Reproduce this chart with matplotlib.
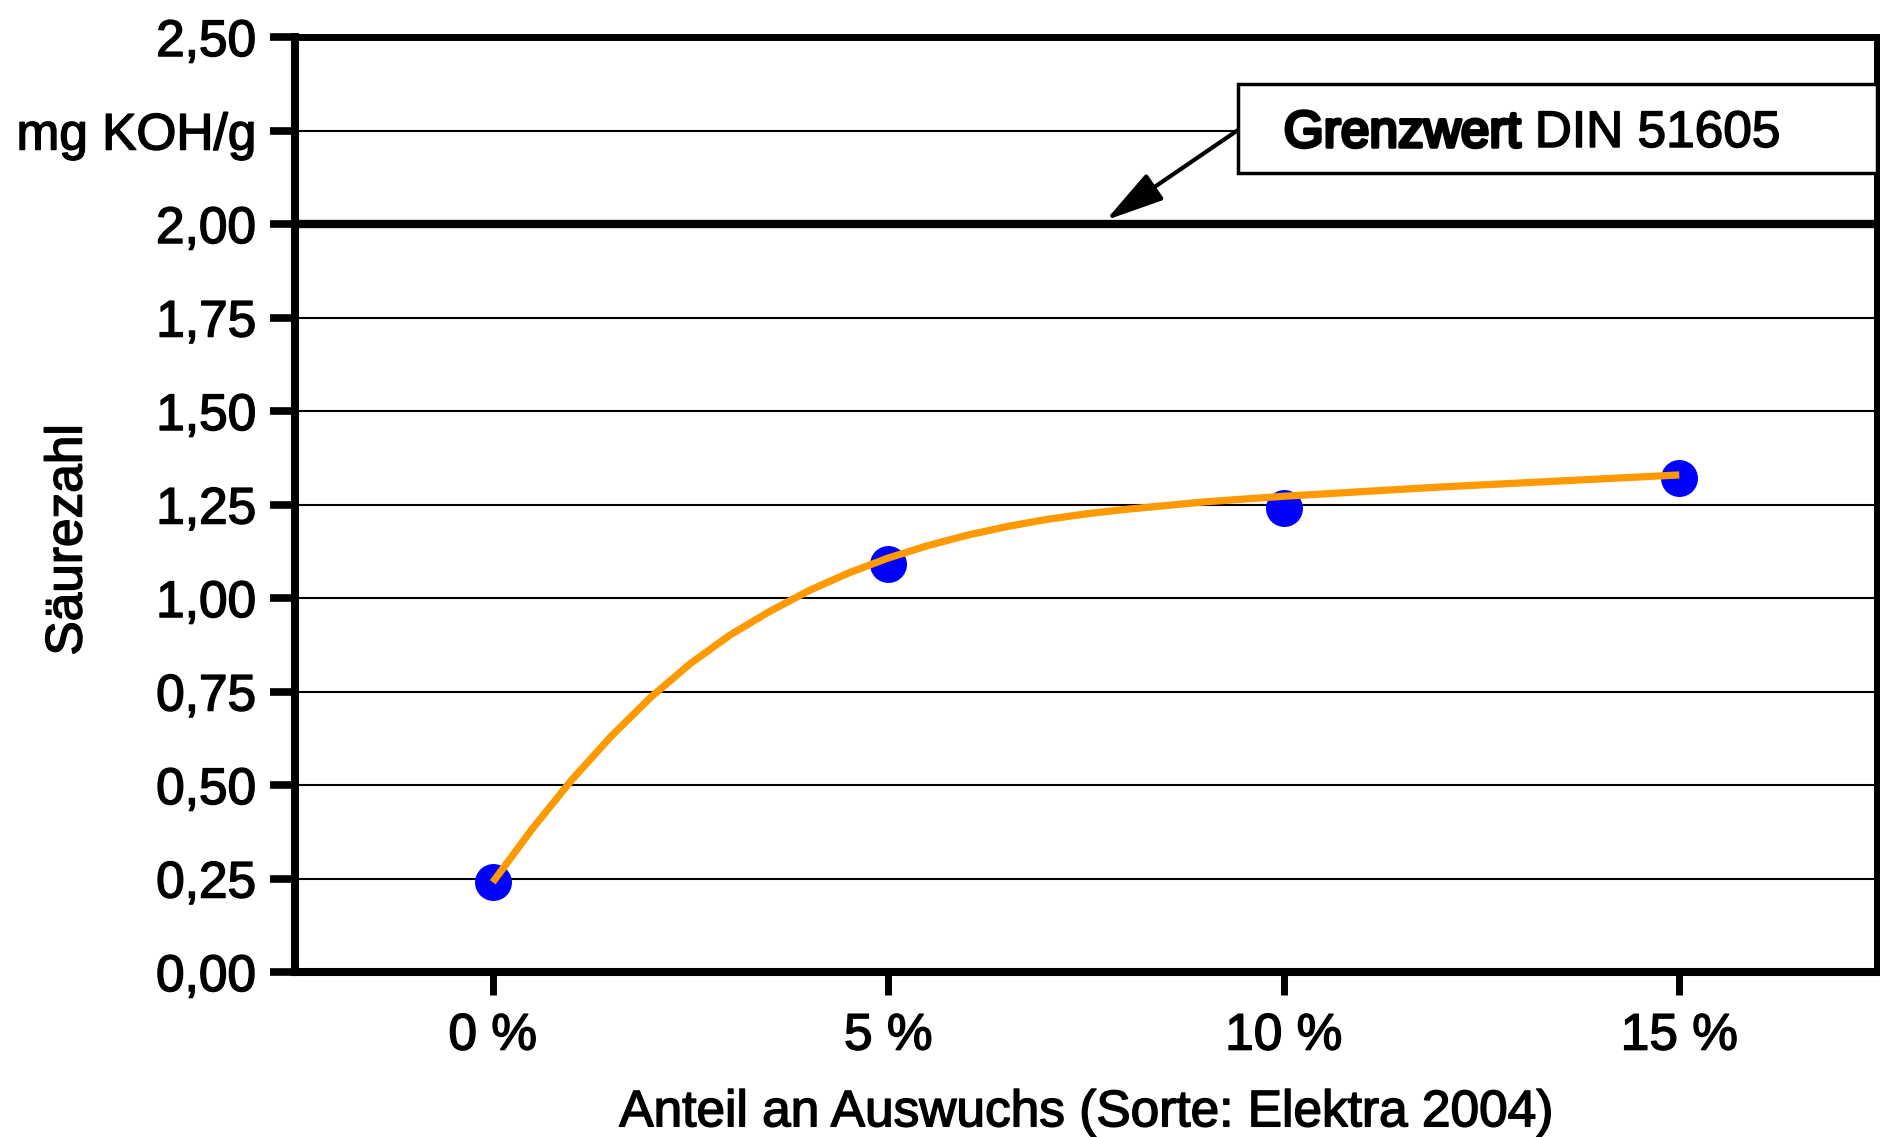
import matplotlib
matplotlib.use("Agg")
import matplotlib.pyplot as plt
import matplotlib.patheffects as pe

plt.rcParams['font.family'] = ['Liberation Sans', 'DejaVu Sans']

# Measured acid number per sprouting share
sprout_share = [0, 5, 10, 15]
acid_number = [0.24, 1.09, 1.24, 1.32]

# Trend curve through the measurements
trend_x = [0, 0.5, 1, 1.5, 2, 2.5, 3, 3.5, 4, 4.5, 5, 5.5, 6, 6.5, 7, 7.5,
           8, 9, 10, 12, 15]
trend_y = [0.24, 0.383, 0.514, 0.631, 0.735, 0.825, 0.901, 0.964, 1.020,
           1.067, 1.107, 1.140, 1.168, 1.191, 1.210, 1.225, 1.237, 1.257,
           1.272, 1.297, 1.329]

# Axis ticks and labels
x_ticks = [0, 5, 10, 15]
x_tick_labels = ["0 %", "5 %", "10 %", "15 %"]
y_ticks = [0.0, 0.25, 0.5, 0.75, 1.0, 1.25, 1.5, 1.75, 2.0, 2.25, 2.5]
y_tick_labels = ["0,00", "0,25", "0,50", "0,75", "1,00", "1,25", "1,50",
                 "1,75", "2,00", "mg KOH/g", "2,50"]

limit_value = 2.0
limit_label = "DIN 51605"

FS = 37
heavy = [pe.withStroke(linewidth=1.1, foreground="black")]
extra_heavy = [pe.withStroke(linewidth=2.6, foreground="black")]

fig = plt.figure(figsize=(18.81, 11.37), dpi=100)
ax = fig.add_axes([295 / 1881, (1137 - 972) / 1137, 1582 / 1881, 935 / 1137])

ax.set_xlim(-2.5, 17.5)
ax.set_ylim(0, 2.5)

# Horizontal grid lines and the limit line
for yv in y_ticks[1:-1]:
    ax.axhline(yv, color="black", lw=1.5, zorder=1)
ax.axhline(limit_value, color="black", lw=6, zorder=2)

ax.plot(sprout_share, acid_number, "o", ms=26.6, color="#0000FF",
        mec="none", zorder=3)
ax.plot(trend_x, trend_y, color="#FF9900", lw=5.2, zorder=4,
        solid_capstyle="butt", solid_joinstyle="round")

# Spines
for side, lw in [("left", 5.8), ("bottom", 5.8), ("top", 5.0), ("right", 5.0)]:
    ax.spines[side].set_linewidth(lw)
    ax.spines[side].set_color("black")

ax.set_xticks(x_ticks)
ax.set_xticklabels(x_tick_labels, fontsize=FS)
ax.set_yticks(y_ticks)
ax.set_yticklabels(y_tick_labels, fontsize=FS)
ax.tick_params(axis="y", direction="out", length=18, width=5.5, pad=10)
ax.tick_params(axis="x", direction="out", length=16.5, width=5, pad=12)
for lbl in ax.get_xticklabels() + ax.get_yticklabels():
    lbl.set_path_effects(heavy)

ax.set_ylabel("Säurezahl", fontsize=FS, path_effects=heavy)
ax.yaxis.set_label_coords(-0.128, 0.462)
ax.set_xlabel("Anteil an Auswuchs (Sorte: Elektra 2004)", fontsize=FS,
              path_effects=heavy)
ax.xaxis.label.set_va("baseline")
ax.xaxis.set_label_coords(0.5, -0.165)

# Callout box for the limit value
box_left, box_bottom, box_top = 9.42, 2.136, 2.374
ax.add_patch(plt.Rectangle((box_left, box_bottom), 17.5 - box_left,
                           box_top - box_bottom, facecolor="white",
                           edgecolor="black", lw=2.5, zorder=5,
                           clip_on=False))
t1 = ax.text(10.0, 2.206, "Grenzwert", fontsize=FS, ha="left",
             va="baseline", zorder=6, path_effects=extra_heavy)
fig.canvas.draw()
bb = t1.get_window_extent()
x_after = ax.transData.inverted().transform((bb.x1, bb.y0))[0]
ax.text(x_after, 2.206, " " + limit_label, fontsize=FS, ha="left",
        va="baseline", zorder=6, path_effects=heavy)

ax.annotate("", xy=(7.75, limit_value + 0.01), xytext=(box_left, 2.251),
            arrowprops=dict(arrowstyle="-|>,head_length=0.6,head_width=0.16",
                            mutation_scale=60, lw=3, color="black",
                            shrinkA=0, shrinkB=0),
            zorder=6)

fig.savefig("out.png", dpi=100)
